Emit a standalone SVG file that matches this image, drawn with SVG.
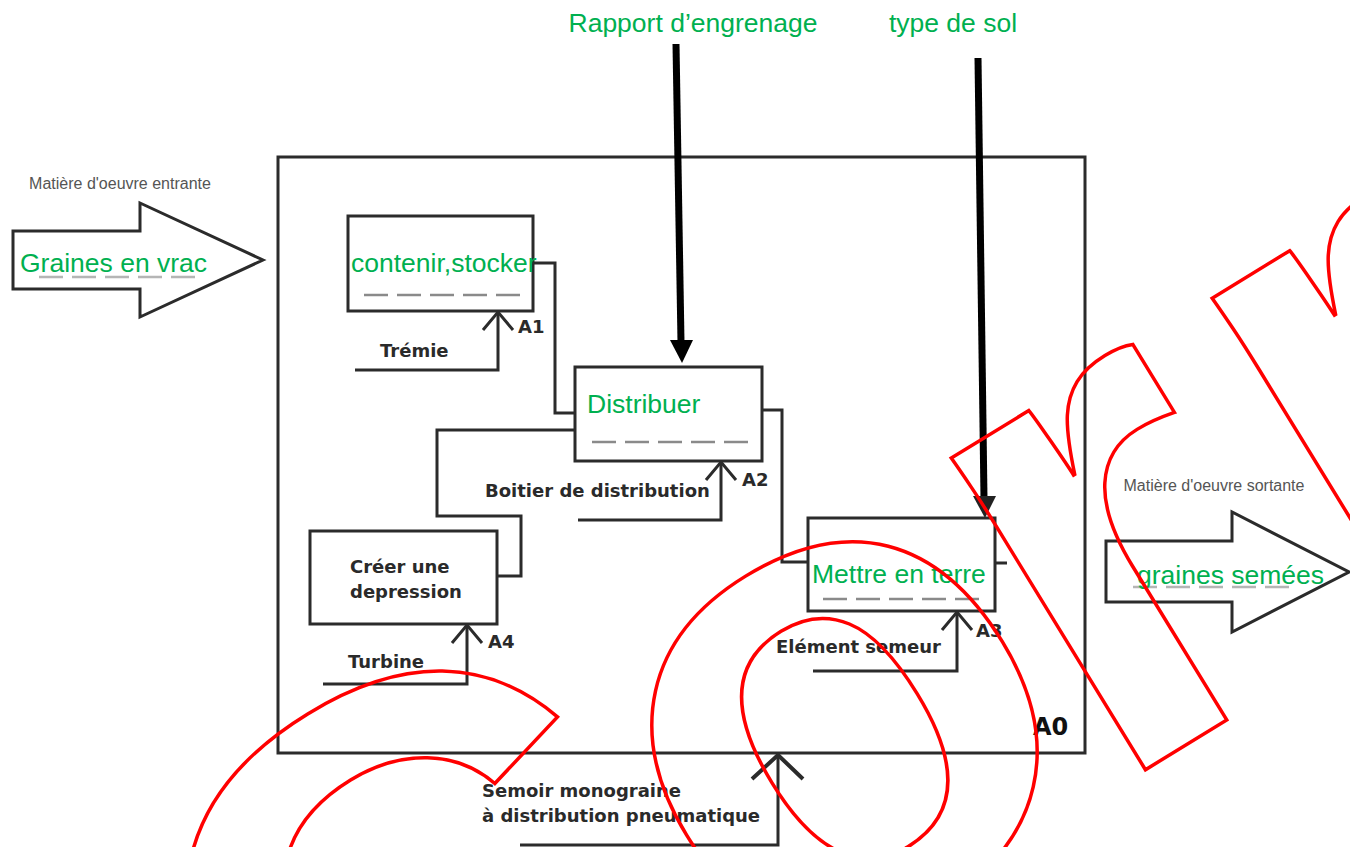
<svg xmlns="http://www.w3.org/2000/svg" width="1350" height="847" viewBox="0 0 1350 847">
<style>
.box{fill:#fff;stroke:#2b2b2b;stroke-width:3}
.ln{fill:none;stroke:#2b2b2b;stroke-width:3}
.bar{fill:none;stroke:#000;stroke-width:7}
.head{fill:#000}
.g{font-family:"Liberation Sans",Arial,sans-serif;font-size:26.5px;fill:#00B050}
.lb{font-family:"DejaVu Sans",sans-serif;font-weight:bold;font-size:18px;fill:#2a2a2a}
.sm{font-family:"Liberation Sans",Arial,sans-serif;font-size:16px;fill:#555}
.dash{fill:none;stroke:#8a8a8a;stroke-width:2.5;stroke-dasharray:24 9}
.dashl{fill:none;stroke:#b5b5b5;stroke-width:2.5;stroke-dasharray:24 9}
.wm{font-family:"Liberation Sans",Arial,sans-serif;font-weight:bold;font-size:695px;fill:none;stroke:#f00;stroke-width:3.5}
</style>
<rect width="1350" height="847" fill="#fff"/>

<g id="frame-A0">
<rect x="278" y="157" width="807" height="596" class="box"/>
<text x="1033" y="735" class="lb" style="font-size:24px;fill:#111">A0</text>
</g>

<g id="input-arrow">
<path d="M13,231 H140 V203 L263,260 L140,317 V289 H13 Z" class="box"/>
<text x="120" y="189" class="sm" text-anchor="middle">Matière d'oeuvre entrante</text>
<line x1="39" y1="277" x2="196" y2="277" class="dashl"/>
<text x="20" y="272" class="g">Graines en vrac</text>
</g>

<g id="output-arrow">
<path d="M1106,541 H1232 V512 L1349,572 L1232,632 V602 H1106 Z" class="box"/>
<text x="1214" y="491" class="sm" text-anchor="middle">Matière d'oeuvre sortante</text>
<line x1="1133" y1="587" x2="1292" y2="587" class="dashl"/>
<text x="1137" y="584" class="g">graines semées</text>
</g>

<g id="control-rapport">
<text x="693" y="32" class="g" text-anchor="middle">Rapport d’engrenage</text>
</g>
<g id="control-sol">
<text x="953" y="32" class="g" text-anchor="middle">type de sol</text>
</g>

<g id="A1">
<rect x="348" y="216" width="185" height="95" class="box"/>
<line x1="364" y1="295" x2="520" y2="295" class="dash"/>
<text x="351" y="272" class="g">contenir,stocker</text>
<text x="380" y="357" class="lb">Trémie</text>
<text x="518" y="333" class="lb">A1</text>
</g>

<g id="A2">
<rect x="575" y="367" width="187" height="94" class="box"/>
<line x1="592" y1="442" x2="749" y2="442" class="dash"/>
<text x="587" y="413" class="g">Distribuer</text>
<text x="485" y="497" class="lb">Boitier de distribution</text>
<text x="742" y="486" class="lb">A2</text>
</g>

<g id="A3">
<rect x="808" y="518" width="187" height="93" class="box"/>
<line x1="823" y1="599" x2="980" y2="599" class="dash"/>
<text x="812" y="583" class="g">Mettre en terre</text>
<text x="776" y="653" class="lb">Elément semeur</text>
<text x="976" y="637" class="lb">A3</text>
</g>

<g id="A4">
<rect x="310" y="531" width="187" height="93" class="box"/>
<text x="350" y="573" class="lb">Créer une</text>
<text x="350" y="598" class="lb">depression</text>
<text x="348" y="668" class="lb">Turbine</text>
<text x="488" y="648" class="lb">A4</text>
</g>

<g id="support-A0">
<text x="482" y="797" class="lb">Semoir monograine</text>
<text x="482" y="822" class="lb">à distribution pneumatique</text>
</g>

<g id="connectors">
<polyline points="533,263 555,263 555,413 575,413" class="ln"/>
<polyline points="762,410 782,410 782,562 808,562" class="ln"/>
<polyline points="497,576 521,576 521,516 437,516 437,430 575,430" class="ln"/>
<line x1="995" y1="563" x2="1007" y2="563" class="ln"/>
<polyline points="355,370 498,370 498,312" class="ln"/>
<polyline points="483,330 498,312 513,330" class="ln"/>
<polyline points="578,520 721,520 721,462" class="ln"/>
<polyline points="706,480 721,462 736,480" class="ln"/>
<polyline points="323,684 467,684 467,625" class="ln"/>
<polyline points="452,643 467,625 482,643" class="ln"/>
<polyline points="813,671 957,671 957,612" class="ln"/>
<polyline points="942,630 957,612 972,630" class="ln"/>
<polyline points="520,845 778,845 778,755" class="ln"/>
<polyline points="752,779 778,755 803,779" class="ln" style="stroke-width:4"/>
<line x1="676" y1="44" x2="681" y2="342" class="bar"/>
<polygon points="670,340 693,340 682,363" class="head"/>
<line x1="978" y1="58" x2="984" y2="498" class="bar"/>
<polygon points="973,496 996,496 985,518" class="head" style="fill:#222"/>
</g>

<g id="watermark" transform="translate(1145,770) rotate(-31.5)">
<text class="wm" x="-950 -452 -48 258" y="0">Corr</text>
</g>
</svg>
